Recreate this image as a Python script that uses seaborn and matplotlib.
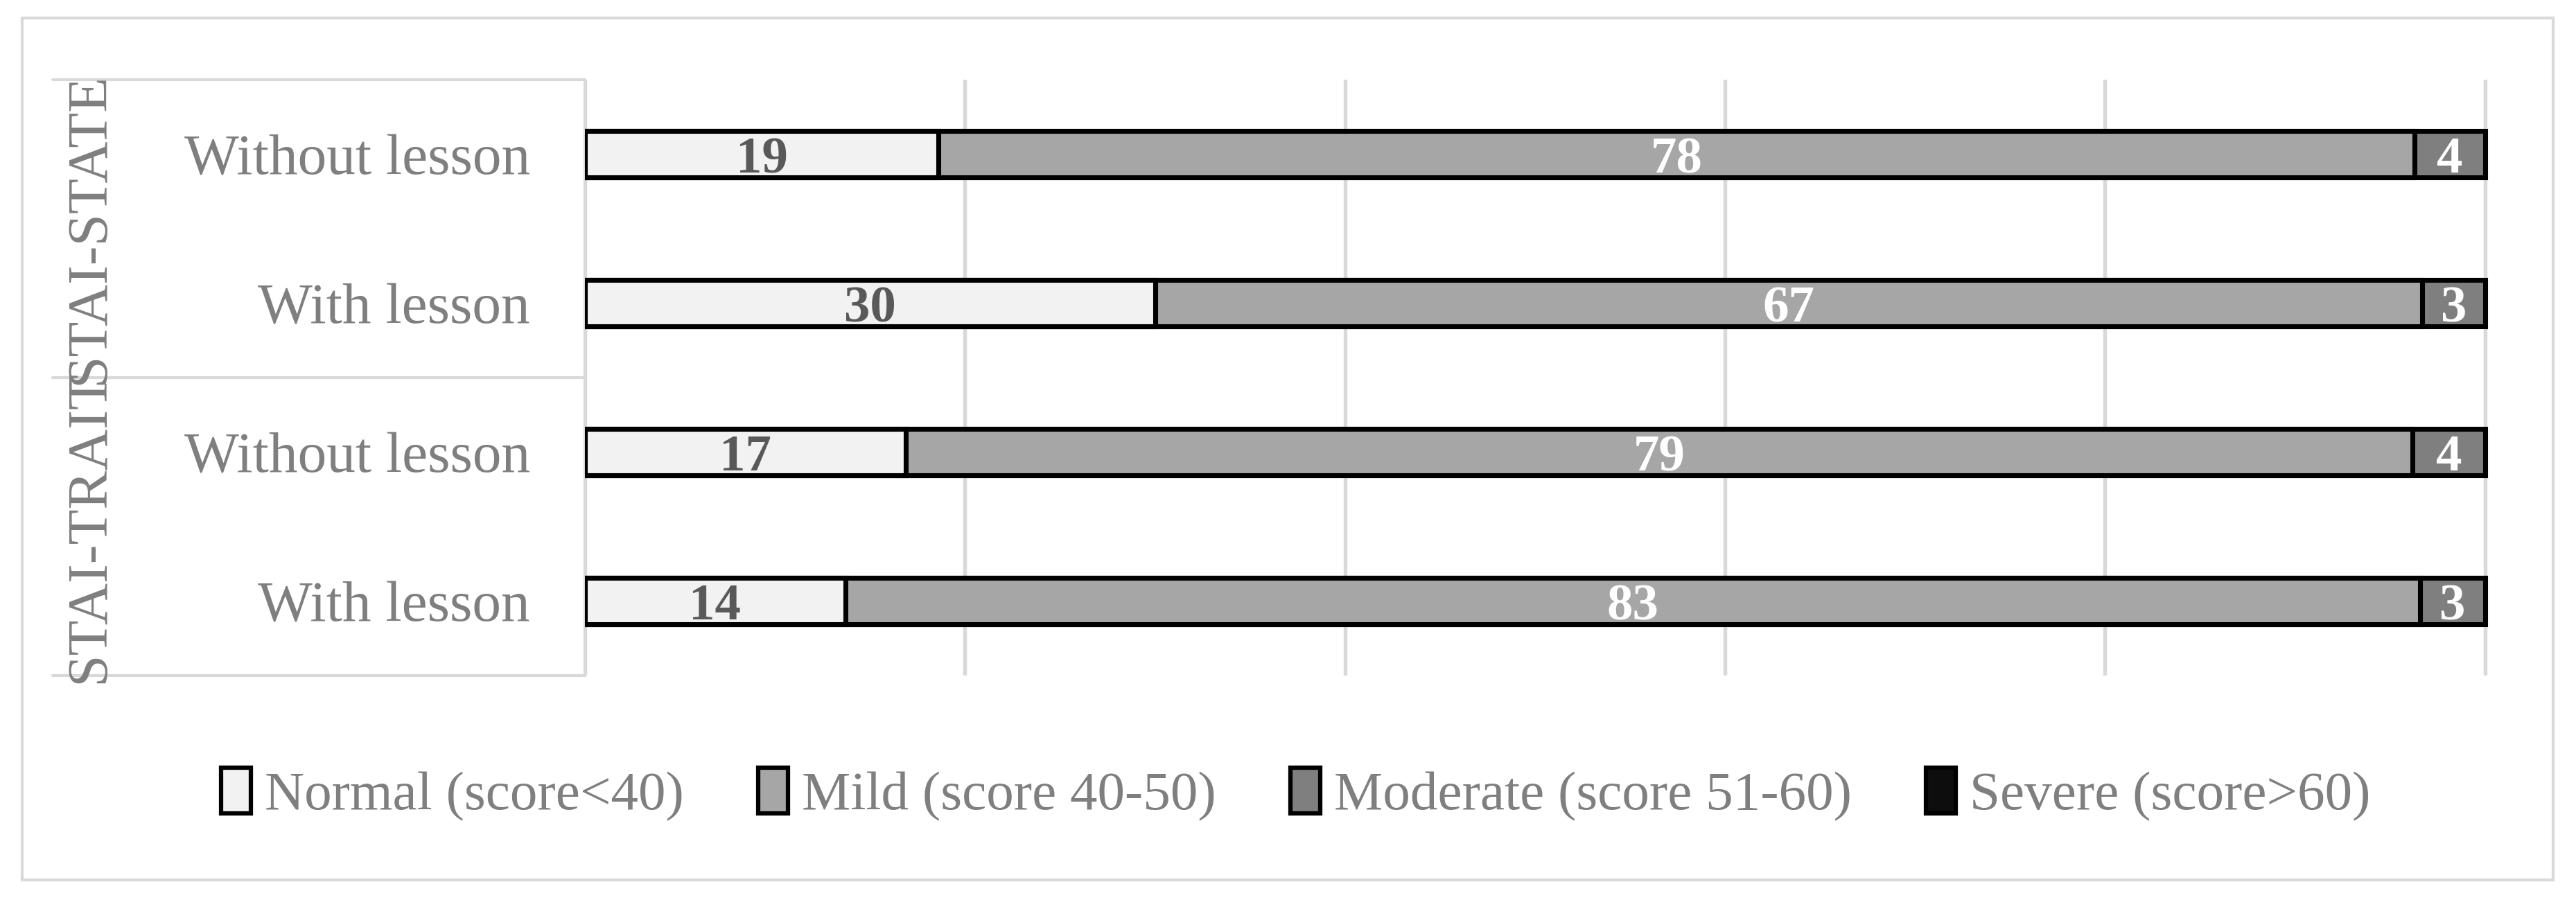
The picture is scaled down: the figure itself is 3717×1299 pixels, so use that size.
import pandas as pd
import seaborn as sns
import matplotlib.pyplot as plt
from matplotlib.patches import Patch, Rectangle

# rows from top to bottom
row_keys = ["state_without", "state_with", "trait_without", "trait_with"]
row_labels = ["Without lesson", "With lesson", "Without lesson", "With lesson"]
groups = ["STAI-STATE", "STAI-TRAIT"]

# percentages per anxiety level
normal = [18.6, 30.0, 16.9, 13.7]
mild = [77.7, 66.7, 79.3, 82.9]
moderate = [3.7, 3.3, 3.8, 3.4]
severe = [0, 0, 0, 0]

level_names = ["Normal (score<40)", "Mild (score 40-50)", "Moderate (score 51-60)", "Severe (score>60)"]
level_colors = ["#f2f2f2", "#a6a6a6", "#7f7f7f", "#0d0d0d"]
label_colors = ["#595959", "white", "white", "white"]

grey = "#7f7f7f"
line_grey = "#d9d9d9"

sns.set_style("white")
plt.rcParams["font.family"] = ["Liberation Serif", "DejaVu Serif"]

df = pd.DataFrame({"row": row_keys, "normal": normal, "mild": mild,
                   "moderate": moderate, "severe": severe})
df["c1"] = df["normal"]
df["c2"] = df["c1"] + df["mild"]
df["c3"] = df["c2"] + df["moderate"]
df["c4"] = df["c3"] + df["severe"]

fig = plt.figure(figsize=(3717 / 300, 1299 / 300), dpi=300)
ax = fig.add_axes([0.2271, 0.2494, 0.739, 0.662])

# stacked bars: draw cumulative totals from widest to narrowest
for col, color in [("c3", level_colors[2]), ("c2", level_colors[1]), ("c1", level_colors[0])]:
    sns.barplot(data=df, x=col, y="row", order=row_keys, color=color, saturation=1,
                width=0.31, edgecolor="black", linewidth=1.7, errorbar=None, ax=ax)

# value labels in the middle of each segment
for i, key in enumerate(row_keys):
    left = 0
    for j, col in enumerate(["normal", "mild", "moderate"]):
        w = df.loc[i, col]
        ax.text(left + w / 2, i + 0.04, f"{w:.0f}", ha="center", va="center",
                fontsize=18, fontweight="bold", color=label_colors[j])
        left += w

ax.set_xlim(0, 100.2)
ax.set_ylim(3.5, -0.5)
ax.set_xticks([0, 20, 40, 60, 80, 100])
ax.set_xticklabels([])
ax.set_yticks(range(len(row_keys)))
ax.set_yticklabels(row_labels, fontsize=20, color=grey)
ax.tick_params(axis="both", length=0)
ax.tick_params(axis="y", pad=19)
ax.set_xlabel("")
ax.set_ylabel("")
ax.grid(axis="x", color=line_grey, linewidth=1.3)
ax.grid(axis="y", visible=False)
ax.set_axisbelow(True)
for s in ax.spines.values():
    s.set_visible(False)

# category box on the left
box_left = -0.2796
for yy in [0, 0.5, 1]:
    ax.plot([box_left, 0], [yy, yy], transform=ax.transAxes, clip_on=False,
            color=line_grey, linewidth=1.0)
ax.plot([0, 0], [0, 1], transform=ax.transAxes, clip_on=False, color=line_grey, linewidth=1.0, zorder=0)
ax.text(-0.26, 0.75, groups[0], rotation=90, transform=ax.transAxes,
        ha="center", va="center", fontsize=20, color=grey)
ax.text(-0.26, 0.25, groups[1], rotation=90, transform=ax.transAxes,
        ha="center", va="center", fontsize=20, color=grey)

handles = [Patch(facecolor=c, edgecolor="black", linewidth=1.5) for c in level_colors]
fig.legend(handles, level_names, loc="center", bbox_to_anchor=(0.503, 0.117), ncol=4,
           frameon=False, fontsize=19, labelcolor=grey, handlelength=0.55, handleheight=0.9,
           handletextpad=0.25, columnspacing=1.35)

fig.add_artist(Rectangle((0.0086, 0.0223), 0.9825, 0.9577, transform=fig.transFigure,
                         fill=False, edgecolor=line_grey, linewidth=1.0))

fig.savefig("out.png", dpi=300)
